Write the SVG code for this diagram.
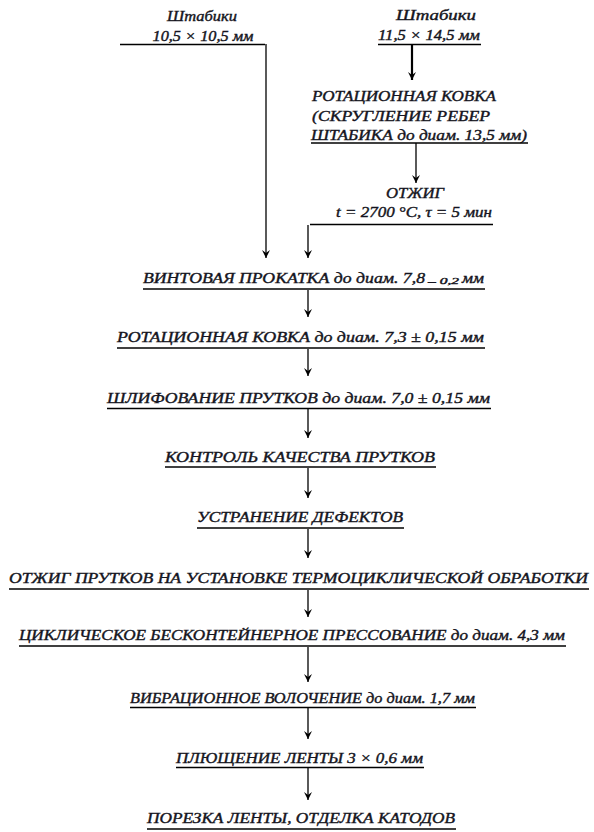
<svg xmlns="http://www.w3.org/2000/svg" width="594" height="832" viewBox="0 0 594 832">
<defs>
<style>
.t{font-family:"Liberation Serif","DejaVu Serif",serif;font-style:italic;font-size:15px;fill:#141420;stroke:#141420;stroke-width:0.4}
.s{font-size:9px}
.u{stroke:#000;stroke-width:1.6;fill:none}
.c{stroke:#000;stroke-width:1.3;fill:none}
.ct{stroke:#000;stroke-width:2.2;fill:none}
</style>
<marker id="ad" viewBox="0 0 8 10" refX="4" refY="9" markerWidth="8" markerHeight="10" markerUnits="userSpaceOnUse" orient="0">
<path d="M0,1 L4,9 L8,1 L4,4 Z" fill="#000"/>
</marker>
</defs>
<rect width="594" height="832" fill="#fff"/>

<g id="src1">
<text class="t" x="202" y="21" text-anchor="middle" textLength="70" lengthAdjust="spacingAndGlyphs">Штабики</text>
<text class="t" x="203" y="41" text-anchor="middle" textLength="101" lengthAdjust="spacingAndGlyphs">10,5 × 10,5 мм</text>
<line class="u" x1="120" y1="44.5" x2="265" y2="44.5"/>
</g>

<g id="src2">
<text class="t" x="436" y="20" text-anchor="middle" textLength="80" lengthAdjust="spacingAndGlyphs">Штабики</text>
<text class="t" x="429" y="40" text-anchor="middle" textLength="102" lengthAdjust="spacingAndGlyphs">11,5 × 14,5 мм</text>
<line class="u" x1="378" y1="44.5" x2="481" y2="44.5"/>
</g>

<g id="rot1">
<text class="t" x="312" y="101" textLength="184" lengthAdjust="spacingAndGlyphs">РОТАЦИОННАЯ КОВКА</text>
<text class="t" x="312" y="121" textLength="178" lengthAdjust="spacingAndGlyphs">(СКРУГЛЕНИЕ РЕБЕР</text>
<text class="t" x="311" y="140" textLength="216" lengthAdjust="spacingAndGlyphs">ШТАБИКА до диам.  13,5 мм)</text>
<line class="u" x1="311" y1="143" x2="528" y2="143"/>
</g>

<g id="anneal1">
<text class="t" x="415" y="198" text-anchor="middle" textLength="58" lengthAdjust="spacingAndGlyphs">ОТЖИГ</text>
<text class="t" x="336" y="217" textLength="156" lengthAdjust="spacingAndGlyphs">t = 2700 °C, τ = 5 мин</text>
<line class="u" x1="310" y1="224.5" x2="493" y2="224.5"/>
</g>

<g id="n1">
<text class="t" x="143" y="283" textLength="282" lengthAdjust="spacingAndGlyphs">ВИНТОВАЯ ПРОКАТКА до диам. 7,8</text>
<text class="t s" x="428" y="284" textLength="31" lengthAdjust="spacingAndGlyphs">– 0,2</text>
<text class="t" x="462" y="283" textLength="22" lengthAdjust="spacingAndGlyphs">мм</text>
<line class="u" x1="143" y1="289" x2="485" y2="289"/>
</g>
<g id="n2">
<text class="t" x="117" y="342" textLength="367" lengthAdjust="spacingAndGlyphs">РОТАЦИОННАЯ КОВКА до диам. 7,3 ± 0,15 мм</text>
<line class="u" x1="117" y1="348" x2="485" y2="348"/>
</g>
<g id="n3">
<text class="t" x="107" y="403" textLength="383" lengthAdjust="spacingAndGlyphs">ШЛИФОВАНИЕ ПРУТКОВ до диам. 7,0 ± 0,15 мм</text>
<line class="u" x1="107" y1="408.5" x2="491" y2="408.5"/>
</g>
<g id="n4">
<text class="t" x="165" y="462" textLength="270" lengthAdjust="spacingAndGlyphs">КОНТРОЛЬ КАЧЕСТВА ПРУТКОВ</text>
<line class="u" x1="165" y1="467" x2="436" y2="467"/>
</g>
<g id="n5">
<text class="t" x="197" y="522" textLength="206" lengthAdjust="spacingAndGlyphs">УСТРАНЕНИЕ ДЕФЕКТОВ</text>
<line class="u" x1="197" y1="528" x2="404" y2="528"/>
</g>
<g id="n6">
<text class="t" x="9" y="583" textLength="579" lengthAdjust="spacingAndGlyphs">ОТЖИГ ПРУТКОВ НА УСТАНОВКЕ ТЕРМОЦИКЛИЧЕСКОЙ ОБРАБОТКИ</text>
<line class="u" x1="9" y1="589" x2="589" y2="589"/>
</g>
<g id="n7">
<text class="t" x="19" y="640" textLength="546" lengthAdjust="spacingAndGlyphs">ЦИКЛИЧЕСКОЕ БЕСКОНТЕЙНЕРНОЕ ПРЕССОВАНИЕ до диам. 4,3 мм</text>
<line class="u" x1="19" y1="646" x2="566" y2="646"/>
</g>
<g id="n8">
<text class="t" x="130" y="703" textLength="345" lengthAdjust="spacingAndGlyphs">ВИБРАЦИОННОЕ ВОЛОЧЕНИЕ до диам. 1,7 мм</text>
<line class="u" x1="130" y1="707.5" x2="476" y2="707.5"/>
</g>
<g id="n9">
<text class="t" x="176" y="763" textLength="247" lengthAdjust="spacingAndGlyphs">ПЛЮЩЕНИЕ ЛЕНТЫ 3 × 0,6 мм</text>
<line class="u" x1="176" y1="767.5" x2="424" y2="767.5"/>
</g>
<g id="n10">
<text class="t" x="147" y="823" textLength="308" lengthAdjust="spacingAndGlyphs">ПОРЕЗКА ЛЕНТЫ, ОТДЕЛКА КАТОДОВ</text>
<line class="u" x1="147" y1="829" x2="456" y2="829"/>
</g>

<g id="connectors">
<line class="c" x1="266" y1="44" x2="266" y2="258" marker-end="url(#ad)"/>
<line class="ct" x1="412" y1="45" x2="412" y2="80" marker-end="url(#ad)"/>
<line class="c" x1="416" y1="143" x2="416" y2="183" marker-end="url(#ad)"/>
<line class="c" x1="308" y1="225" x2="308" y2="258" marker-end="url(#ad)"/>
<line class="c" x1="308" y1="290" x2="308" y2="317" marker-end="url(#ad)"/>
<line class="c" x1="308" y1="349" x2="308" y2="376" marker-end="url(#ad)"/>
<line class="c" x1="308" y1="409" x2="308" y2="438" marker-end="url(#ad)"/>
<line class="c" x1="308" y1="468" x2="308" y2="498" marker-end="url(#ad)"/>
<line class="c" x1="308" y1="529" x2="308" y2="558" marker-end="url(#ad)"/>
<line class="c" x1="308" y1="590" x2="308" y2="617" marker-end="url(#ad)"/>
<line class="c" x1="308" y1="647" x2="308" y2="682" marker-end="url(#ad)"/>
<line class="c" x1="308" y1="708" x2="308" y2="739" marker-end="url(#ad)"/>
<line class="c" x1="308" y1="768" x2="308" y2="800" marker-end="url(#ad)"/>
</g>
</svg>
